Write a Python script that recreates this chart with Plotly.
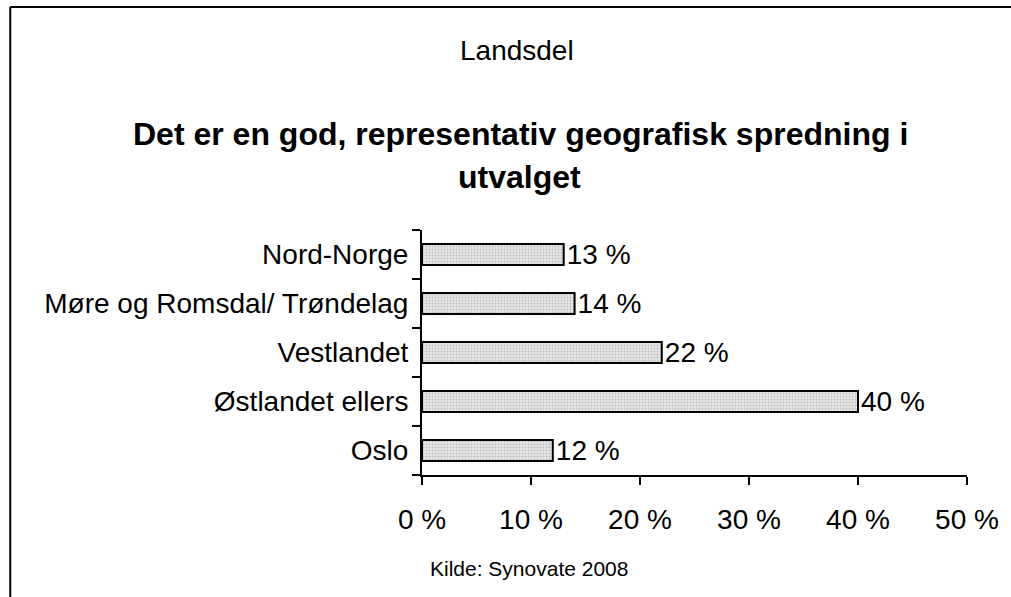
import plotly.graph_objects as go

# data
regions = ["Oslo", "Østlandet ellers", "Vestlandet", "Møre og Romsdal/ Trøndelag", "Nord-Norge"]
shares = [12, 40, 22, 14, 13]

W, H = 1011, 597
L, R, T, B = 422, 41, 230, 122
PW = W - L - R
PH = H - T - B


def px_x(x):
    return (x - L) / PW


def px_y(y):
    return (H - B - y) / PH


font = "Liberation Sans, Arial"

fig = go.Figure()
fig.add_trace(go.Bar(
    x=shares,
    y=regions,
    orientation="h",
    width=0.43,
    marker=dict(
        color="#d9d9d9",
        line=dict(color="black", width=2),
        pattern=dict(shape=".", fgcolor="#909090", bgcolor="#e8e8e8", size=3, solidity=0.35),
    ),
    text=[f"{v} %" for v in shares],
    textposition="outside",
    constraintext="none",
    textfont=dict(family=font, size=28, color="black"),
    cliponaxis=False,
    hoverinfo="skip",
))

annotations = [
    dict(text="Landsdel", x=px_x(518), y=px_y(50), size=28),
    dict(text="<b>Det er en god, representativ geografisk spredning i</b>", x=px_x(521), y=px_y(134), size=32),
    dict(text="<b>utvalget</b>", x=px_x(520), y=px_y(177), size=32),
    dict(text="Kilde: Synovate 2008", x=px_x(530), y=px_y(568), size=21),
]

fig.update_layout(
    width=W, height=H,
    margin=dict(l=L, r=R, t=T, b=B, pad=0),
    paper_bgcolor="white",
    plot_bgcolor="white",
    showlegend=False,
    font=dict(family=font, size=28, color="black"),
    annotations=[
        dict(text=a["text"], x=a["x"], y=a["y"], xref="paper", yref="paper",
             showarrow=False, xanchor="center", yanchor="middle",
             font=dict(family=font, size=a["size"], color="black"))
        for a in annotations
    ],
    shapes=[
        dict(type="line", xref="paper", yref="paper", x0=px_x(8), x1=px_x(1020),
             y0=px_y(7), y1=px_y(7), line=dict(color="black", width=2)),
        dict(type="line", xref="paper", yref="paper", x0=px_x(8), x1=px_x(8),
             y0=px_y(7), y1=px_y(605), line=dict(color="black", width=2)),
    ],
)

fig.update_xaxes(
    range=[0, 50], dtick=10, ticksuffix=" %",
    showgrid=False, zeroline=False,
    showline=True, linecolor="black", linewidth=2,
    ticks="outside", ticklen=8, tickwidth=2, tickcolor="black",
    ticklabelstandoff=10,
    tickfont=dict(family=font, size=28, color="black"),
)
fig.update_yaxes(
    categoryorder="array", categoryarray=regions,
    showgrid=False, zeroline=False,
    showline=True, linecolor="black", linewidth=2,
    ticks="outside", ticklen=8, tickwidth=2, tickcolor="black",
    tickson="boundaries",
    ticklabelstandoff=6,
    tickfont=dict(family=font, size=28, color="black"),
)

fig.write_html("out.html", config={"displayModeBar": False},
               post_script="document.body.style.margin='0';")
